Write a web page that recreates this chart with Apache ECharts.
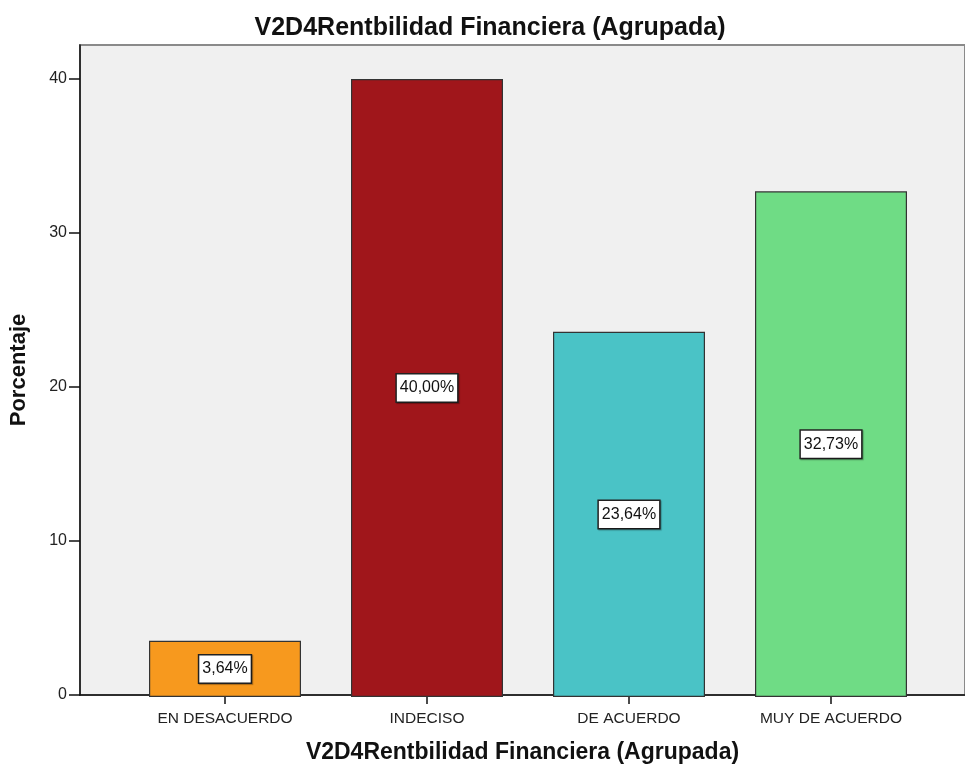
<!DOCTYPE html>
<html><head><meta charset="utf-8">
<script src="https://cdn.jsdelivr.net/npm/echarts@6/dist/echarts.min.js"></script>
<style>html,body{margin:0;padding:0;background:#fff}#c{width:965px;height:769px}</style>
</head><body><div id="c"></div>
<script>
const categories = ['EN DESACUERDO', 'INDECISO', 'DE ACUERDO', 'MUY DE ACUERDO'];
const values = [3.64, 40.00, 23.64, 32.73];
const barColors = ['#f7991e', '#a0161b', '#4ac3c6', '#6fdc85'];
const yTicks = [0, 10, 20, 30, 40];
const titleText = 'V2D4Rentbilidad Financiera (Agrupada)';
const yName = 'Porcentaje';

const font = 'Liberation Sans, Arial, sans-serif';
const yMin = 0, yMax = 42.2;
const chart = echarts.init(document.getElementById('c'));
chart.setOption({
  animation: false,
  title: { text: titleText, left: 485, textAlign: 'center', top: 11,
    textStyle: { fontFamily: font, fontWeight: 'bold', fontSize: 25, color: '#111' } },
  grid: [
    { left: 80, right: -3, top: 45, bottom: 72, show: true, backgroundColor: '#f0f0f0',
      borderColor: '#8a8a8a', borderWidth: 2, containLabel: false },
    { left: 124, right: 33, top: 45, bottom: 72, containLabel: false }
  ],
  xAxis: [
    { gridIndex: 0, type: 'value', min: 0, max: 1, axisLine: { show: true, onZero: false, lineStyle: { color: '#111', width: 1.5 } },
      axisTick: { show: false }, axisLabel: { show: false }, splitLine: { show: false },
      name: titleText, nameLocation: 'middle', nameGap: 46,
      nameTextStyle: { fontFamily: font, fontWeight: 'bold', fontSize: 23, color: '#111' } },
    { gridIndex: 1, type: 'category', data: categories, boundaryGap: true,
      axisLine: { show: false }, axisTick: { show: true, alignWithLabel: true, length: 7, lineStyle: { color: '#111', width: 1.5 } },
      axisLabel: { fontFamily: font, fontSize: 15.5, color: '#222', margin: 14 } }
  ],
  yAxis: [
    { gridIndex: 0, type: 'value', min: yMin, max: yMax, interval: 10,
      axisLine: { show: true, lineStyle: { color: '#111', width: 1.5 } },
      axisTick: { show: true, length: 11, lineStyle: { color: '#111', width: 1.5 },
        customValues: yTicks },
      axisLabel: { fontFamily: font, fontSize: 16, color: '#222', margin: 13, customValues: yTicks },
      splitLine: { show: false },
      name: yName, nameLocation: 'middle', nameGap: 50, nameRotate: 90,
      nameTextStyle: { fontFamily: font, fontWeight: 'bold', fontSize: 22, color: '#111' } },
    { gridIndex: 1, type: 'value', min: yMin, max: yMax, show: false }
  ],
  series: [{
    type: 'bar', xAxisIndex: 1, yAxisIndex: 1, barWidth: 152,
    data: values.map((v, i) => ({ value: v, itemStyle: { color: barColors[i] } })),
    itemStyle: { borderColor: '#333', borderWidth: 1.2 },
    label: { show: true, position: 'inside', formatter: p => p.value.toFixed(2).replace('.', ',') + '%',
      fontFamily: font, fontSize: 16, color: '#111', backgroundColor: '#fff',
      borderColor: '#222', borderWidth: 1.5, padding: [6, 3, 5, 3],
      shadowColor: 'rgba(0,0,0,0.3)', shadowOffsetX: 1, shadowOffsetY: 1, shadowBlur: 1 }
  }]
});
</script></body></html>
